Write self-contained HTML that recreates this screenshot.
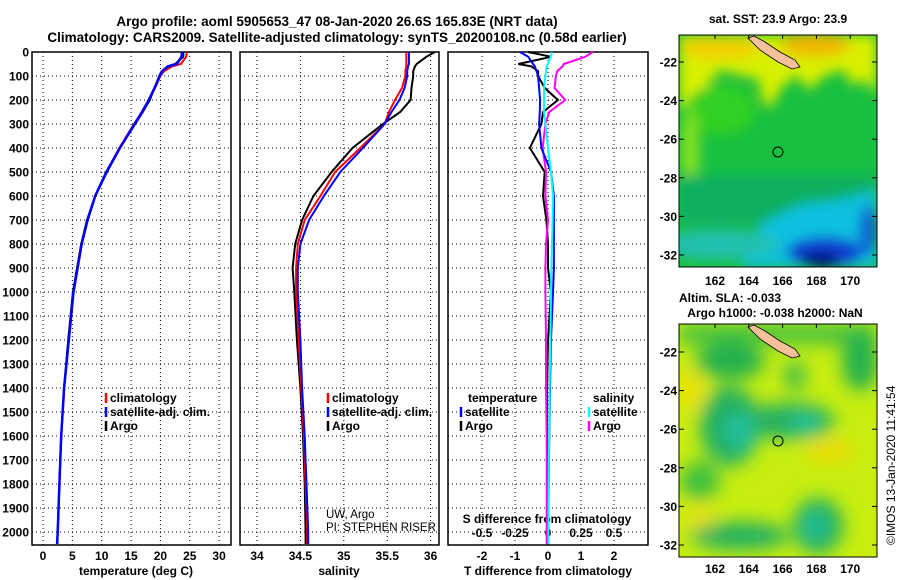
<!DOCTYPE html>
<html><head><meta charset="utf-8"><style>
html,body{margin:0;padding:0;background:#fff;width:900px;height:580px;overflow:hidden;}
svg{display:block;font-family:"Liberation Sans",sans-serif;}
.b{font-weight:bold;}
</style></head><body>
<svg id="s" width="900" height="580" viewBox="0 0 900 580" xmlns="http://www.w3.org/2000/svg">
<defs>
<filter id="blur1" x="-20%" y="-20%" width="140%" height="140%"><feGaussianBlur stdDeviation="6"/></filter>
<filter id="blur2" x="-20%" y="-20%" width="140%" height="140%"><feGaussianBlur stdDeviation="9"/></filter>
<clipPath id="c1"><rect x="679" y="35" width="198" height="232"/></clipPath>
<clipPath id="c2"><rect x="679" y="324" width="198" height="233"/></clipPath>
</defs>
<text x="337" y="26" text-anchor="middle" class="b" font-size="13.5">Argo profile: aoml 5905653_47 08-Jan-2020 26.6S 165.83E (NRT data)</text>
<text x="337" y="42" text-anchor="middle" class="b" font-size="13.5">Climatology: CARS2009. Satellite-adjusted climatology: synTS_20200108.nc (0.58d earlier)</text>
<g id="plots"></g>
<g id="maps">
 <g clip-path="url(#c1)">
  <rect x="679" y="35" width="198" height="232" fill="#18c040"/>
  <g filter="url(#blur1)">
   <path d="M679 35 H877 V95 L865 80 L850 85 L845 70 L825 75 L810 90 L795 75 L780 90 L770 110 L760 95 L760 80 L740 75 L720 70 L700 95 L679 110 Z" fill="#d8f000"/>
   <ellipse cx="815" cy="45" rx="35" ry="12" fill="#f0b800"/>
   <ellipse cx="720" cy="48" rx="40" ry="12" fill="#f0d000"/>
   <ellipse cx="720" cy="110" rx="35" ry="25" fill="#30d020"/>
   <ellipse cx="690" cy="150" rx="10" ry="40" fill="#80e020"/>
   <rect x="679" y="175" width="198" height="50" fill="#10b060"/>
   <path d="M740 267 L760 225 L800 205 L840 200 L877 190 V267 Z" fill="#10c0e0"/>
   <ellipse cx="720" cy="245" rx="60" ry="15" fill="#20c0b0"/>
   <ellipse cx="825" cy="252" rx="38" ry="15" fill="#1040d0"/>
   <ellipse cx="820" cy="260" rx="20" ry="7" fill="#000070"/>
   <ellipse cx="868" cy="230" rx="9" ry="25" fill="#1060d0"/>
  </g>
  <path d="M754 36 L765 42 L780 52 L795 60 L800 67 L792 69 L778 62 L760 50 L748 38 Z" fill="#f5c09a" stroke="#000" stroke-width="0.8"/>
  <circle cx="778" cy="152" r="5" fill="none" stroke="#000" stroke-width="1"/>
 </g>
 <rect x="679" y="35" width="198" height="232" fill="none" stroke="#000"/>
 <text x="778" y="23" text-anchor="middle" class="b" font-size="12">sat. SST: 23.9 Argo: 23.9</text>
 <g clip-path="url(#c2)">
  <rect x="679" y="324" width="198" height="233" fill="#c8ee10"/>
  <g transform="translate(0,31)">
  <g filter="url(#blur2)">
   <rect x="679" y="293" width="198" height="20" fill="#40c040"/>
   <ellipse cx="730" cy="330" rx="35" ry="18" fill="#20b050"/>
   <ellipse cx="860" cy="330" rx="18" ry="30" fill="#20b050"/>
   <ellipse cx="730" cy="395" rx="30" ry="40" fill="#20b060"/>
   <ellipse cx="790" cy="390" rx="45" ry="18" fill="#20b060"/>
   <ellipse cx="795" cy="345" rx="10" ry="15" fill="#30b850"/>
   <ellipse cx="740" cy="400" rx="15" ry="18" fill="#20c0a0"/>
   <ellipse cx="805" cy="392" rx="15" ry="10" fill="#20c0a0"/>
   <ellipse cx="740" cy="505" rx="50" ry="14" fill="#20b060"/>
   <ellipse cx="818" cy="495" rx="25" ry="28" fill="#20b060"/>
   <ellipse cx="815" cy="495" rx="10" ry="15" fill="#20c0a0"/>
   <ellipse cx="700" cy="450" rx="20" ry="20" fill="#40c040"/>
   <ellipse cx="830" cy="420" rx="25" ry="10" fill="#f0d800"/>
   <ellipse cx="690" cy="360" rx="12" ry="20" fill="#f0e000"/>
   <ellipse cx="700" cy="485" rx="12" ry="12" fill="#f0e000"/>
  </g>
  </g>
  <path d="M754 325 L765 331 L780 341 L795 349 L800 356 L792 358 L778 351 L760 339 L748 327 Z" fill="#f5c09a" stroke="#000" stroke-width="0.8"/>
  <circle cx="778" cy="441" r="5" fill="none" stroke="#000" stroke-width="1"/>
 </g>
 <rect x="679" y="324" width="198" height="233" fill="none" stroke="#000"/>
 <text x="730" y="302" text-anchor="middle" class="b" font-size="12">Altim. SLA: -0.033</text>
 <text x="775" y="317" text-anchor="middle" class="b" font-size="12">Argo h1000: -0.038 h2000: NaN</text>
 <text transform="translate(895,545) rotate(-90)" font-size="12">©IMOS 13-Jan-2020 11:41:54</text>
</g>
</svg>
<script>
// depth levels (m)
const depths=[0,20,50,60,80,100,150,200,250,300,400,500,600,700,800,900,1000,1200,1400,1600,1800,2000,2050];
const tempArgo=[23.9,23.9,22.5,21.2,20.2,19.8,19.0,18.2,17.0,15.7,13.1,10.9,8.9,7.5,6.5,5.8,5.1,4.3,3.6,3.1,2.8,2.5,2.4];
const tempClim=[24.5,24.4,23.5,22.0,20.6,20.0,19.1,18.0,16.8,15.5,13.0,10.8,8.9,7.6,6.6,5.9,5.2,4.4,3.6,3.1,2.8,2.5,2.4];
const tempSat=[23.7,23.6,22.8,21.3,20.3,19.9,19.0,18.0,16.9,15.6,13.1,10.8,8.9,7.6,6.6,5.9,5.2,4.4,3.6,3.1,2.8,2.5,2.4];
const salArgo=[36.05,35.95,35.84,35.82,35.8,35.8,35.78,35.77,35.65,35.45,35.1,34.86,34.65,34.52,34.44,34.41,34.43,34.46,34.5,34.53,34.55,34.56,34.56];
const salClim=[35.72,35.72,35.72,35.72,35.71,35.71,35.67,35.59,35.52,35.47,35.19,34.9,34.73,34.55,34.47,34.45,34.45,34.48,34.51,34.54,34.56,34.58,34.58];
const salSat=[35.75,35.75,35.75,35.74,35.73,35.73,35.7,35.64,35.55,35.47,35.22,34.96,34.77,34.6,34.5,34.47,34.47,34.5,34.52,34.55,34.57,34.59,34.59];
// differences from climatology
const dTargo=[-0.6,0.1,-0.9,-0.5,-0.3,-0.3,-0.1,0.3,-0.15,-0.2,-0.55,-0.1,-0.15,-0.05,0,0,0.09,0,-0.03,-0.03,-0.03,-0.03,-0.03];
const dTsat=[-0.85,-0.6,-0.45,-0.4,-0.35,-0.3,-0.27,-0.24,-0.25,-0.27,-0.2,0.09,0.18,0.18,0.18,0.18,0.15,0.09,0.06,0.04,0.02,0.01,0.01];
const dSsat=[0.03,0.02,0,-0.01,-0.015,-0.02,-0.03,-0.03,-0.03,-0.02,0,0.023,0.038,0.035,0.03,0.025,0.023,0.018,0.012,0.008,0.005,0.003,0.003];
const dSargo=[0.34,0.28,0.12,0.11,0.07,0.06,0.05,0.13,0.01,-0.02,-0.04,-0.015,-0.02,0,-0.015,-0.02,-0.02,-0.015,-0.015,-0.01,-0.01,-0.01,-0.01];
const depthTicks=[0,100,200,300,400,500,600,700,800,900,1000,1100,1200,1300,1400,1500,1600,1700,1800,1900,2000];
const tTicks=[0,5,10,15,20,25,30];
const sTicks=[34,34.5,35,35.5,36];
const dTTicks=[-2,-1,0,1,2];
const dSTickLabels=["-0.5","-0.25","0","0.25","0.5"];
const latTicks=[-22,-24,-26,-28,-30,-32];
const lonTicks=[162,164,166,168,170];

const NS="http://www.w3.org/2000/svg";
const plotG=document.getElementById('plots');
function mk(tag,attrs,parent){const e=document.createElementNS(NS,tag);for(const k in attrs)e.setAttribute(k,attrs[k]);(parent||plotG).appendChild(e);return e;}
const yTop=52,yBot=545;
const yD=d=>yTop+d*0.24;
const xT=v=>43+v*5.87;
const xS=v=>257+(v-34)*86.8;
const xDT=v=>548+v*33;
const xDS=v=>548+v*132;
const panels=[{x0:32,x1:231,ticks:tTicks.map(xT),labels:tTicks.map(String),name:'temperature-panel',xl:'temperature (deg C)',xlx:136},
{x0:240,x1:439,ticks:sTicks.map(xS),labels:sTicks.map(String),name:'salinity-panel',xl:'salinity',xlx:339},
{x0:448,x1:648,ticks:dTTicks.map(xDT),labels:dTTicks.map(String),name:'difference-panel',xl:'T difference from climatology',xlx:548}];
panels.forEach((p)=>{
  const r=mk('rect',{x:p.x0,y:yTop,width:p.x1-p.x0,height:yBot-yTop,fill:'none',stroke:'#000','stroke-width':1.5});
  
  
  depthTicks.forEach(d=>{if(d>0){const l=mk('line',{x1:p.x0,x2:p.x1,y1:yD(d),y2:yD(d),stroke:'#000','stroke-dasharray':'1 3'});
    
    }});
  p.ticks.forEach((x,j)=>{const l=mk('line',{x1:x,x2:x,y1:yTop,y2:yBot,stroke:'#000','stroke-dasharray':'1 3'});
    
    
    const t=mk('text',{x:x,y:560,'text-anchor':'middle','font-size':12,'font-weight':'bold'});t.textContent=p.labels[j];
    
    });
  const xl=mk('text',{x:p.xlx,y:575,'text-anchor':'middle','font-size':12,'font-weight':'bold'});xl.textContent=p.xl;
  
  
});
depthTicks.forEach(d=>{const t=mk('text',{x:29,y:yD(d)+4.5,'text-anchor':'end','font-size':12,'font-weight':'bold'});t.textContent=d;
  
  });
dSTickLabels.forEach((s)=>{const v=parseFloat(s);const t=mk('text',{x:xDS(v),y:537,'text-anchor':'middle','font-size':12,'font-weight':'bold'});t.textContent=s;
  
  });
const st=mk('text',{x:547,y:523,'text-anchor':'middle','font-size':12,'font-weight':'bold'});st.textContent='S difference from climatology';


function line(vals,xf,color,w,name){
  const pts=vals.map((v,i)=>xf(v).toFixed(1)+','+yD(depths[i]).toFixed(1)).join(' ');
  const l=mk('polyline',{points:pts,fill:'none',stroke:color,'stroke-width':w});
  
  
}
line(tempClim,xT,'#f00',2,'temp-climatology-line');
line(tempArgo,xT,'#000',2,'temp-argo-line');
line(tempSat,xT,'#00f',2.5,'temp-satellite-line');
line(salArgo,xS,'#000',2,'sal-argo-line');
line(salClim,xS,'#f00',2,'sal-climatology-line');
line(salSat,xS,'#00f',2,'sal-satellite-line');
line(dTargo,xDT,'#000',2,'tdiff-argo-line');
line(dSargo,xDS,'#f0f',2,'sdiff-argo-line');
line(dTsat,xDT,'#00f',2,'tdiff-satellite-line');
line(dSsat,xDS,'#0ff',2,'sdiff-satellite-line');
function leg(x,y,color,label,name){
  const m=mk('line',{x1:x,x2:x,y1:y-9,y2:y+1,stroke:color,'stroke-width':2.5});
  
  
  const t=mk('text',{x:x+4,y:y,'font-size':12,'font-weight':'bold'});t.textContent=label;
  
  
}
leg(106,402,'#f00','climatology','legend-climatology');
leg(106,416,'#00f','satellite-adj. clim.','legend-satellite');
leg(106,430,'#000','Argo','legend-argo');
leg(328,402,'#f00','climatology','legend-sal-climatology');
leg(328,416,'#00f','satellite-adj. clim.','legend-sal-satellite');
leg(328,430,'#000','Argo','legend-sal-argo');
const lt=mk('text',{x:468,y:402,'font-size':12,'font-weight':'bold'});lt.textContent='temperature';


const ls=mk('text',{x:593,y:402,'font-size':12,'font-weight':'bold'});ls.textContent='salinity';


leg(461,416,'#00f','satellite','legend-tdiff-satellite');
leg(461,430,'#000','Argo','legend-tdiff-argo');
leg(589,416,'#0ff','satellite','legend-sdiff-satellite');
leg(589,430,'#f0f','Argo','legend-sdiff-argo');
const c1=mk('text',{x:326,y:518,'font-size':11.5});c1.textContent='UW, Argo';


const c2=mk('text',{x:326,y:531,'font-size':11.5});c2.textContent='PI: STEPHEN RISER';


// map axes
const mapG=document.getElementById('maps');
[[35,267,62,255,285],[324,557,352,545,573]].forEach(([y0,y1,y22,y32,ly])=>{
  const dy=(y32-y22)/10;
  latTicks.forEach(l=>{const y=y22+(-22-l)*dy;
    const tk=mk('line',{x1:872,x2:877,y1:y,y2:y,stroke:'#000'},mapG);
    
    
    const tk2=mk('line',{x1:679,x2:684,y1:y,y2:y,stroke:'#000'},mapG);
    
    
    const t=mk('text',{x:677,y:y+4.5,'text-anchor':'end','font-size':12,'font-weight':'bold'},mapG);t.textContent=l;
    
    });
  lonTicks.forEach(l=>{const x=715+(l-162)*16.9;
    const tk=mk('line',{x1:x,x2:x,y1:y0,y2:y0+4,stroke:'#000'},mapG);
    
    
    const t=mk('text',{x:x,y:ly,'text-anchor':'middle','font-size':12,'font-weight':'bold'},mapG);t.textContent=l;
    
    });
});
</script>
</body></html>
